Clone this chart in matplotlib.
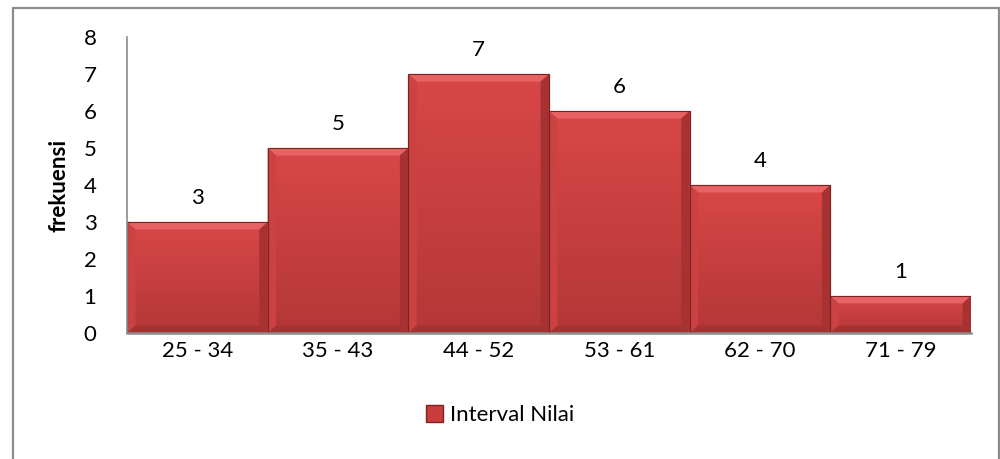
import numpy as np
import matplotlib
matplotlib.use("Agg")
import matplotlib.pyplot as plt
from matplotlib.patches import Polygon, Rectangle, Patch

# data
intervals = ["25 - 34", "35 - 43", "44 - 52", "53 - 61", "62 - 70", "71 - 79"]
frekuensi = [3, 5, 7, 6, 4, 1]
series_name = "Interval Nilai"
y_ticks = [0, 1, 2, 3, 4, 5, 6, 7, 8]

plt.rcParams['font.family'] = ['Lato', 'DejaVu Sans']
fs = 16

fig = plt.figure(figsize=(10, 4.59), dpi=100)
ax = fig.add_axes([0.127, 0.2745, 0.844, 0.6445])

# outer chart border
fig.patches.append(Rectangle((0.013, -0.01), 0.986, 0.993, transform=fig.transFigure,
                             fill=False, edgecolor='#8c8c8c', linewidth=1.6))

x = np.arange(len(intervals))
bars = ax.bar(x, frekuensi, width=1.0, color='#d44444', edgecolor='#7d2222',
              linewidth=0.8, zorder=2)

# gradient + bevel look
grad = np.linspace(0, 1, 100).reshape(-1, 1)
cmap = matplotlib.colors.LinearSegmentedColormap.from_list('r', ['#b43737', '#d94747'])
dx = 0.06
dy = 0.2
for b in bars:
    x0 = b.get_x()
    w = b.get_width()
    h = b.get_height()
    x1 = x0 + w
    im = ax.imshow(grad, extent=(x0, x1, 0, h), origin='lower', cmap=cmap,
                   aspect='auto', zorder=2.1)
    im.set_clip_path(b)
    top = Polygon([(x0, h), (x1, h), (x1 - dx, h - dy), (x0 + dx, h - dy)],
                  closed=True, facecolor='#e76363', edgecolor='none', zorder=2.2)
    left = Polygon([(x0, h), (x0 + dx, h - dy), (x0 + dx, dy), (x0, 0)],
                   closed=True, facecolor='#cc4242', edgecolor='none', zorder=2.2)
    right = Polygon([(x1, h), (x1 - dx, h - dy), (x1 - dx, dy), (x1, 0)],
                    closed=True, facecolor='#a83232', edgecolor='none', zorder=2.2)
    bottom = Polygon([(x0, 0), (x1, 0), (x1 - dx, dy), (x0 + dx, dy)],
                     closed=True, facecolor='#a53131', edgecolor='none', zorder=2.2)
    for p in (top, left, right, bottom):
        ax.add_patch(p)
    ax.add_patch(Rectangle((x0, 0), w, h, fill=False, edgecolor='#7d2222',
                           linewidth=0.8, zorder=2.3))
    ax.text(b.get_x() + w / 2, h + 0.65, str(int(h)), ha='center', va='center',
            fontsize=fs, color='black')

ax.set_xlim(-0.5, len(intervals) - 0.5)
ax.set_ylim(0, 8)
ax.set_xticks(x)
ax.set_xticklabels(intervals, fontsize=fs)
ax.set_yticks(y_ticks)
ax.set_yticklabels([str(t) for t in y_ticks], fontsize=fs)
ax.tick_params(axis='both', length=0)
ax.tick_params(axis='y', pad=22)
ax.tick_params(axis='x', pad=6)

for s in ('top', 'right'):
    ax.spines[s].set_visible(False)
ax.spines['left'].set_color('#8c8c8c')
ax.spines['left'].set_linewidth(1.2)
ax.spines['bottom'].set_color('#8c8c8c')
ax.spines['bottom'].set_linewidth(1.8)

ax.set_ylabel("frekuensi", fontsize=fs, fontweight='bold', labelpad=10)

handle = Patch(facecolor='#c83c3c', edgecolor='#7d2222', label=series_name)
fig.legend(handles=[handle], loc='center', bbox_to_anchor=(0.5, 0.096),
           frameon=False, fontsize=fs, handlelength=0.8, handleheight=0.8,
           handletextpad=0.3)

fig.savefig("out.png", dpi=100)
